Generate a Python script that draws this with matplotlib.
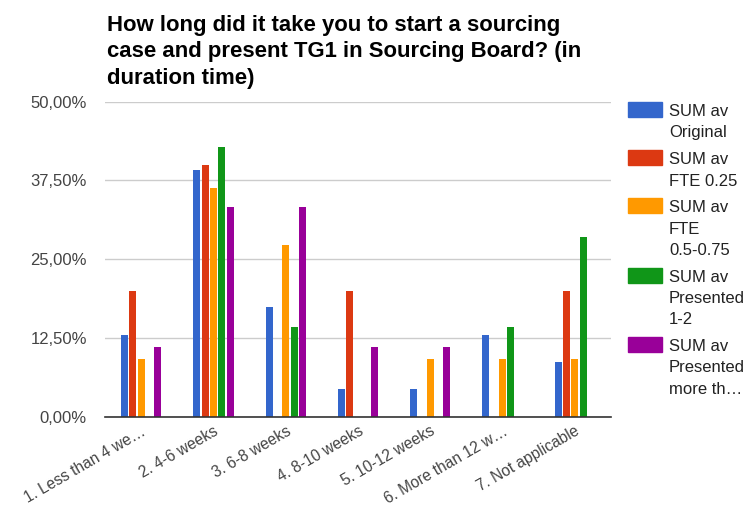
import matplotlib
matplotlib.use("Agg")
import matplotlib.pyplot as plt
import numpy as np
from matplotlib.patches import Rectangle

plt.rcParams['font.family'] = ['Liberation Sans', 'DejaVu Sans']

categories = ["1. Less than 4 we…", "2. 4-6 weeks", "3. 6-8 weeks", "4. 8-10 weeks",
              "5. 10-12 weeks", "6. More than 12 w…", "7. Not applicable"]
series_labels = ["SUM av\nOriginal", "SUM av\nFTE 0.25", "SUM av\nFTE\n0.5-0.75",
                 "SUM av\nPresented\n1-2", "SUM av\nPresented\nmore th…"]
original = [13.04, 39.13, 17.39, 4.35, 4.35, 13.04, 8.70]
fte_025 = [20.0, 40.0, 0.0, 20.0, 0.0, 0.0, 20.0]
fte_05_075 = [9.09, 36.36, 27.27, 0.0, 9.09, 9.09, 9.09]
presented_1_2 = [0.0, 42.86, 14.29, 0.0, 0.0, 14.29, 28.57]
presented_more = [11.11, 33.33, 33.33, 11.11, 11.11, 0.0, 0.0]
series = [original, fte_025, fte_05_075, presented_1_2, presented_more]
colors = ["#3366cc", "#dc3912", "#ff9900", "#109618", "#990099"]
yticks = [0, 12.5, 25, 37.5, 50]
ytick_labels = ["0,00%", "12,50%", "25,00%", "37,50%", "50,00%"]
title = "How long did it take you to start a sourcing\ncase and present TG1 in Sourcing Board? (in\nduration time)"

W, H = 747, 509
fig = plt.figure(figsize=(W / 100, H / 100), dpi=100)
ax = fig.add_axes([105 / W, 1 - 416.7 / H, (611 - 105) / W, (416.7 - 101.7) / H])

x = np.arange(len(categories))
pitch = 0.115
bw = 0.097
for i, (vals, c) in enumerate(zip(series, colors)):
    ax.bar(x + (i - 2) * pitch, vals, width=bw, color=c, zorder=3)

ax.set_xlim(-0.5, len(categories) - 0.5)
ax.set_ylim(0, 50)
ax.set_yticks(yticks)
ax.set_yticklabels(ytick_labels, color="#444444", fontsize=12)
ax.yaxis.grid(True, color="#cccccc", linewidth=1, zorder=0)
ax.tick_params(axis='y', length=0, pad=13)
ax.tick_params(axis='x', length=0, pad=5)
ax.set_xticks(x)
ax.set_xticklabels(categories, rotation=30, ha='right', va='top', rotation_mode='anchor',
                   color="#444444", fontsize=11.2)
for s in ['top', 'right', 'left']:
    ax.spines[s].set_visible(False)
ax.spines['bottom'].set_color("#333333")
ax.spines['bottom'].set_linewidth(1.2)
ax.spines['bottom'].set_zorder(4)

# title, line by line
for k, line in enumerate(title.split("\n")):
    fig.text(107 / W, 1 - (31 + k * 26.5) / H, line, ha='left', va='baseline',
             fontsize=15.9, fontweight='bold', color="#000000")

# legend
base = 116
line_h = 21.5
for lab, c in zip(series_labels, colors):
    fig.patches.append(Rectangle((628 / W, 1 - (base + 1) / H), 34 / W, 15 / H,
                                 transform=fig.transFigure, color=c, zorder=5))
    lines = lab.split("\n")
    for k, ln in enumerate(lines):
        fig.text(669 / W, 1 - (base + k * line_h) / H, ln, ha='left', va='baseline',
                 fontsize=12, color="#222222")
    base += len(lines) * line_h + 5

fig.savefig("out.png", dpi=100)
